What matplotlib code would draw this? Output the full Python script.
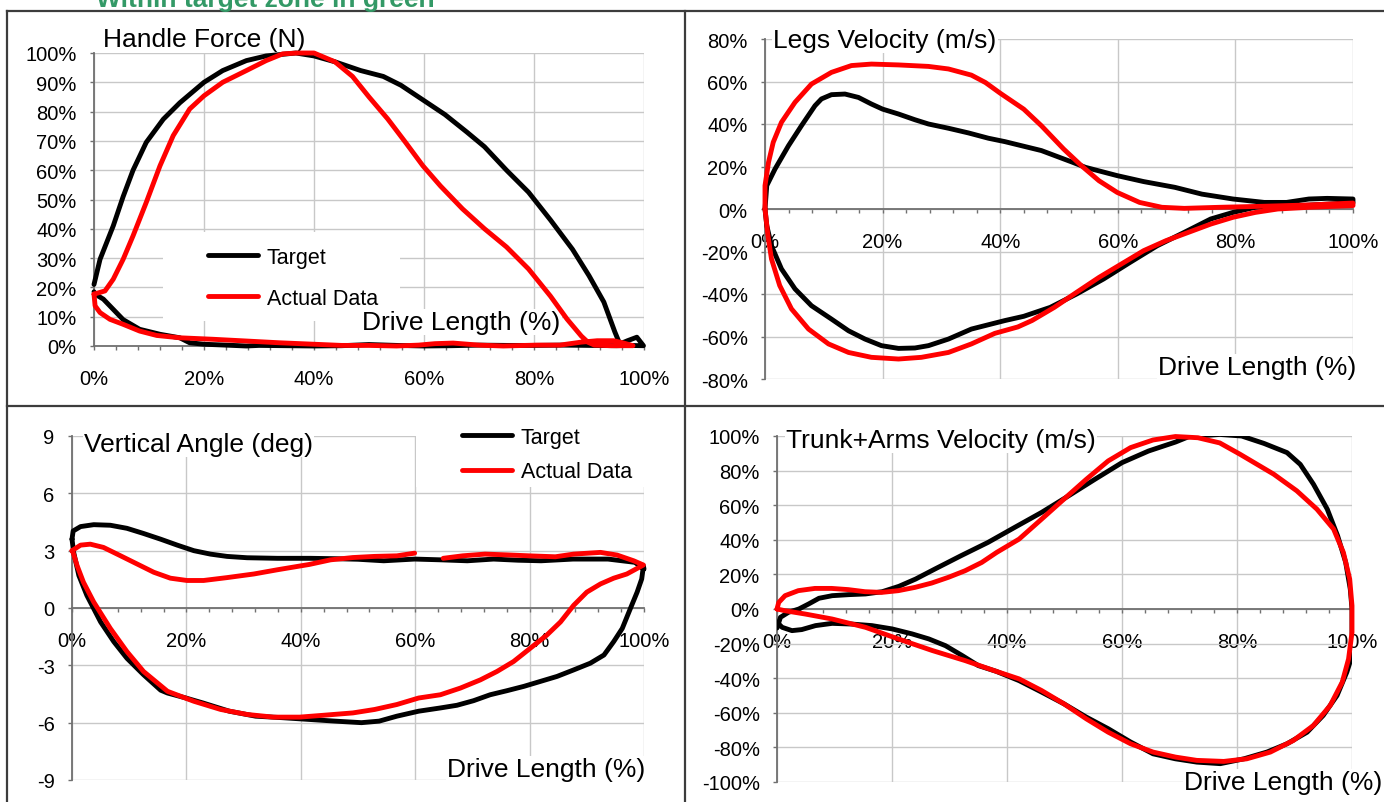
import matplotlib
matplotlib.use("Agg")
import numpy as np
import matplotlib.pyplot as plt
from matplotlib.ticker import MultipleLocator, FuncFormatter
from matplotlib.patches import Rectangle
from matplotlib.lines import Line2D

plt.rcParams["font.family"] = ["Liberation Sans", "DejaVu Sans"]
plt.rcParams["axes.unicode_minus"] = False

# ---- handle force (% of peak) vs drive length (%) ----
force_tgt_x = [0, 1.1, 3.5, 5.3, 7.1, 9.5, 12.6, 15.6, 20, 23.4, 27.7, 31.3, 36.7, 40, 43.8,
               48.5, 52.6, 55.8, 59.8, 63.8, 67.8, 71, 75, 79, 83, 87, 90, 92.7, 94.7, 95.6,
               97, 98.7, 99.9,
               97, 95, 90, 85, 80, 75, 70, 65, 60, 55, 50, 45, 40, 35, 30, 27.7, 24, 20, 17.4,
               15.6, 12, 8.3, 5.3, 3.5, 1.7, 0.2, 0]
force_tgt_y = [21, 29.6, 41, 51, 60, 69.5, 77.4, 83, 90, 94, 97.4, 99, 100, 99, 97,
               94, 92, 89, 84, 79, 73, 68, 60, 52.5, 43, 33, 24, 15, 4.8, 0.7,
               1.8, 3, 0.1,
               0.2, 0.1, 0.2, 0.3, 0.2, 0.2, 0.3, 0.1, 0, 0.2, 0.5, 0.1, 0, 0.1, 0.2, 0, 0.3, 0.6, 1.1,
               2.8, 4, 5.7, 9, 12.5, 16, 17.7, 18.5]
force_act_x = [0, 2, 3.5, 5.3, 7.1, 9.5, 12, 14.4, 17.4, 20, 23.4, 27.7, 31.3, 34.3, 37, 40,
               43.8, 47, 50, 53.4, 56.6, 59.8, 63, 67, 71, 75, 79, 83, 86, 88.6, 89.8, 91, 94, 98,
               96.5, 94.5, 91.5, 88.5, 84.7, 80.5, 74.4, 70, 65.3, 62, 59, 55, 50, 45, 40, 33.7,
               27.7, 21.6, 15.6, 11.4, 8.3, 5.3, 2.9, 1.1, 0.2, 0]
force_act_y = [17.7, 18.8, 22.8, 29.6, 37.6, 49, 61.5, 71.8, 80.9, 85.4, 90, 94, 97.4, 99.7, 100, 100,
               97, 92, 85, 77.5, 69.6, 61.5, 54.6, 46.8, 40, 33.8, 26.3, 17, 9.2, 3.4, 1.3, 0.3, 0.1, 0.1,
               0.9, 1.8, 1.8, 1.3, 0.3, 0.3, 0, 0.3, 1, 0.8, 0.3, 0, 0.2, 0.2, 0.6, 1.1,
               1.7, 2.3, 2.8, 3.6, 5.1, 7.4, 9.1, 11.4, 13.7, 17.7]

# ---- legs velocity ----
legs_tgt_x = [0, 0.3, 1.7, 4, 6.2, 8.5, 9.6, 11.3, 13.6, 15.9, 18.1, 20, 22.7, 25.5, 27.8, 31.2,
              34.6, 38, 40.8, 47, 52.3, 54.5, 59.9, 64.4, 69.7, 74.3, 79.6, 84.9, 88.7, 92.5, 95.6, 100,
              100, 96.3, 91, 87.2, 83.4, 79.6, 75.8, 71.3, 66.7, 62.1, 57.6, 53, 48.5, 44, 40.8,
              35.1, 31.2, 27.8, 25.5, 22.7, 19.8, 17, 14.2, 11.3, 7.9, 5.1, 2.8, 1.1, 0.3, 0]
legs_tgt_y = [0, 11, 18.8, 29.8, 39.2, 48.6, 51.8, 53.8, 54.1, 52.5, 49.4, 47, 44.7, 42, 40, 38,
              35.8, 33.3, 31.7, 27.5, 22, 19.6, 15.7, 12.9, 10.2, 7, 4.7, 3.1, 3.1, 4.7, 5, 4.7,
              3, 2.4, 1.6, 1.9, 0.8, -1.6, -4.7, -11, -17.3, -25.1, -32.9, -40, -46.3, -50.5, -52.5,
              -56.5, -61.2, -64.3, -65.4, -65.6, -64.3, -61.2, -57.3, -51.8, -45.5, -37.6, -28.2, -17.3, -7.8, 0]
legs_act_x = [0, 0, 0.6, 1.4, 2.8, 5.1, 7.9, 11.3, 14.7, 18.1, 22.7, 27.8, 31.2, 35.1, 37.5, 40, 44,
              47, 50.8, 53.8, 56.8, 59.9, 63.7, 67.5, 71.3, 77.3, 84.9, 92.5, 100,
              100, 92.5, 87.2, 83.4, 79.6, 75.8, 72, 68.2, 64.4, 60.6, 56.8, 53, 49.2, 45.4, 43,
              39.1, 35.1, 31.2, 26.6, 22.7, 18.1, 14.2, 10.8, 7.4, 4.5, 2.5, 1.1, 0.5, 0]
legs_act_y = [0, 11, 22, 31.4, 40.8, 50.2, 58.8, 64.3, 67.5, 68.2, 67.8, 67.1, 65.9, 63, 59.5, 54.5, 47,
              39.2, 28.2, 20.4, 13.3, 7.8, 3.1, 0.8, 0.3, 0.8, 1.3, 1.9, 2.8,
              1.6, 0.8, 0, -1.6, -3.9, -7.1, -11, -14.9, -19.6, -25.9, -32.2, -39.2, -46.3, -52.5, -55.5,
              -58.5, -63.5, -67.5, -69.8, -70.6, -69.8, -67.5, -63.5, -56.5, -47, -36, -23.5, -12.5, 0]

# ---- vertical angle (deg) ----
angle_tgt_x = [0, 0.2, 1.5, 3.8, 6.7, 9.6, 12.5, 15.5, 18.4, 21.3, 24.2, 27.1, 30.6, 35.9, 41.7,
               46, 50, 54.5, 59.9, 64.5, 69.1, 73.7, 78, 82, 87.6, 93.7, 98.4, 100,
               99.9, 99.6, 98.8, 97.6, 96.2, 94.7, 93, 90.6, 87.7, 84.8, 81.9, 79, 76, 73.1, 70.2,
               67.3, 64.4, 60.6, 56.8, 53.7, 50.6, 46, 41.4, 36.8, 32.1, 27.5, 22.9, 19.8, 16.7,
               15.5, 12.5, 9.6, 7.3, 5, 2.6, 1.2, 0.3, 0]
angle_tgt_y = [3.6, 4.03, 4.26, 4.36, 4.33, 4.17, 3.9, 3.6, 3.29, 3.0, 2.82, 2.7, 2.63, 2.6, 2.6,
               2.58, 2.55, 2.47, 2.56, 2.52, 2.47, 2.56, 2.5, 2.47, 2.56, 2.56, 2.39, 2.04,
               2.2, 1.52, 0.83, -0.04, -1.07, -1.76, -2.46, -2.89, -3.24, -3.58, -3.84, -4.1, -4.33, -4.54, -4.85,
               -5.09, -5.23, -5.4, -5.66, -5.92, -6.0, -5.92, -5.83, -5.74, -5.66, -5.4, -4.97, -4.7, -4.45,
               -4.3, -3.49, -2.63, -1.76, -0.73, 0.66, 1.7, 2.9, 3.6]
# the logged series has a dropout between 60 % and 65 % of the drive
angle_act_x = [0, 1.5, 3.2, 5.5, 8.5, 11.4, 14.3, 17.2, 20.1, 23, 27.1, 31.8, 35.9, 41.5, 45.2,
               49.1, 52.9, 56.8, 59.9, np.nan, 64.9, 68.3, 72.2, 76, 79.9, 84.5, 87.7, 92.4, 95.3,
               98.2, 99.9,
               97, 94.7, 92.4, 90, 87.7, 85.4, 83, 80.1, 77.2, 74.3, 71.4, 67.9, 64.4, 60.6, 56.8,
               52.9, 49.1, 44.5, 39.8, 35.2, 30.6, 26, 21.3, 16.7, 12.5, 9.6, 6.7, 3.8, 2, 0.9, 0.2, 0]
angle_act_y = [3.0, 3.29, 3.34, 3.17, 2.73, 2.3, 1.87, 1.56, 1.44, 1.44, 1.59, 1.78, 2.0, 2.28, 2.52,
               2.64, 2.7, 2.73, 2.87, np.nan, 2.6, 2.73, 2.82, 2.78, 2.73, 2.68, 2.82, 2.91, 2.77,
               2.47, 2.25,
               1.78, 1.56, 1.26, 0.83, 0.14, -0.73, -1.42, -2.11, -2.8, -3.32, -3.76, -4.19, -4.54, -4.71, -5.05,
               -5.31, -5.49, -5.6, -5.71, -5.71, -5.57, -5.31, -4.88, -4.36, -3.32, -2.28, -1.07, 0.31, 1.35, 2.21, 2.9, 3.0]

# ---- trunk + arms velocity ----
trunk_tgt_x = [0, 0.6, 2, 3.8, 5.5, 7.3, 9.6, 12.5, 15.4, 18.3, 21.2, 24.1, 27.4, 32, 36.7, 41.3,
               46, 50.7, 55.3, 60, 64.6, 69.3, 71.6, 77, 80.8, 84.7, 88.7, 91, 93.3, 95.7, 97.5,
               98.9, 99.7, 100,
               100, 100.2, 99.1, 97.4, 95, 92.2, 88.7, 85.2, 81.2, 77.1, 73, 69.3, 65.4, 61.5, 57.6,
               53.8, 49.9, 46, 42.1, 38.1, 35, 32.2, 29.3, 26.4, 23.5, 20, 16.5, 13, 9.6, 6.7, 4.3,
               2.6, 0.9, 0]
trunk_tgt_y = [-11, -4.8, -1.9, 0, 2.9, 6.2, 7.7, 8.3, 8.7, 10, 13.1, 17.3, 23, 30.8, 38.5, 47.1,
               55.8, 65.4, 75, 84.6, 91.3, 96.5, 99.6, 100.9, 100, 95.7, 90.4, 83.6, 72.1, 57.7, 42.3,
               27, 11.5, 0,
               -13.5, -25, -36.5, -50, -61.5, -71.2, -77.9, -82.7, -86.6, -89.4, -88.5, -86.6, -83.7, -76.9, -69.2,
               -62.5, -54.8, -48, -41.4, -36, -32.7, -26.9, -21.2, -17.3, -14.4, -11.5, -9.6, -8.7, -8.3, -9.6, -11.9,
               -12.5, -10.6, -7.7]
trunk_act_x = [0, 0.3, 1.4, 3.7, 6.6, 9.5, 12.4, 15.3, 18.2, 21.1, 24, 26.9, 29.8, 32.7, 35.6, 38.2,
               42.1, 46, 49.9, 53.8, 57.6, 61.5, 65.4, 69.3, 73.2, 77, 80.5, 86.4, 90.4, 93.9, 96.8,
               98.5, 99.6, 100,
               100, 99.4, 98.3, 96.2, 93.3, 89.8, 85.8, 81.7, 77.7, 73, 69.3, 65.4, 61.5, 57.6, 53.8,
               49.9, 46, 42.1, 38.1, 32.7, 27, 21.1, 15.4, 9.6, 4.9, 1.4, 0]
trunk_act_y = [0, 3.8, 7.7, 10.6, 11.9, 11.9, 11.2, 10, 9.6, 10.6, 12.5, 15, 18.3, 22.1, 26.9, 32.7,
               40.4, 51.9, 63.5, 75, 85.6, 93.3, 97.7, 99.7, 99, 96, 89.5, 77.9, 68.3, 57.7, 46.2,
               32.7, 17.3, 1.9,
               -13.5, -28.9, -42.3, -55.8, -67.3, -76, -82.7, -86.6, -88.1, -87.5, -85.6, -82.7, -77.9, -71.2, -63.5,
               -54.8, -47.1, -40.4, -36, -29.8, -24, -17.3, -10.6, -5.8, -2.9, -1, 0]

series_labels = ["Target", "Actual Data"]

W, H = 1384, 803
BLACK, RED = "#000000", "#ff0000"
GRID = "#c8c8c8"
AXIS = "#707070"
FRAME = "#3c3c3c"
LW = 3.5

fig = plt.figure(figsize=(W / 100, H / 100), dpi=100)


def fx(x):
    return x / W


def fy(y):
    return 1 - y / H


def panel(left, top, right, bottom, ylo, yhi, ystep, pct=True):
    ax = fig.add_axes([fx(left), fy(bottom), (right - left) / W, (bottom - top) / H])
    ax.set_xlim(0, 100)
    ax.set_ylim(ylo, yhi)
    ax.xaxis.set_major_locator(MultipleLocator(20))
    ax.xaxis.set_minor_locator(MultipleLocator(4))
    ax.yaxis.set_major_locator(MultipleLocator(ystep))

    def lab(v, _):
        v = 0 if abs(v) < 1e-9 else v
        return f"{v:.0f}%" if pct else f"{v:.0f}"
    ax.xaxis.set_major_formatter(FuncFormatter(lambda v, _: f"{v:.0f}%"))
    ax.yaxis.set_major_formatter(FuncFormatter(lab))
    ax.set_axisbelow(True)
    ax.grid(True, which="major", color=GRID, lw=1.0)
    for s in ("top", "right"):
        ax.spines[s].set_visible(False)
    ax.spines["bottom"].set_position(("data", 0))
    for s in ("left", "bottom"):
        ax.spines[s].set_color(AXIS)
        ax.spines[s].set_linewidth(1.3)
    ax.tick_params(axis="both", which="both", direction="out", length=3, width=1.0,
                   color=AXIS, labelsize=14.5)
    ax.tick_params(axis="x", which="major", pad=13.5)
    ax.tick_params(axis="y", pad=9.5)
    return ax


def loop(ax, x, y, color, clip=False):
    return ax.plot(x, y, color=color, lw=LW, zorder=3, clip_on=clip,
                   solid_joinstyle="round", solid_capstyle="round")[0]


def label(ax, x, y, s):
    ax.text(fx(x), fy(y), s, transform=fig.transFigure, fontsize=19, ha="left",
            va="baseline", zorder=1, clip_on=False,
            bbox=dict(facecolor="white", edgecolor="none", pad=1))


def legend_box(ax, handles, x, y, spacing, box):
    x0, y0, x1, y1 = box
    ax.add_patch(Rectangle((fx(x0), fy(y1)), (x1 - x0) / W, (y1 - y0) / H,
                           transform=fig.transFigure, facecolor="white", edgecolor="none",
                           zorder=1, clip_on=False))
    ax.legend(handles, series_labels, loc="upper left", bbox_to_anchor=(fx(x), fy(y)),
              bbox_transform=fig.transFigure, frameon=False, fontsize=15.5,
              handlelength=2.3, handletextpad=0.42, labelspacing=spacing,
              borderpad=0, borderaxespad=0)


# top left: handle force
ax1 = panel(94, 54, 644, 347, 0, 100, 10)
h1 = loop(ax1, force_tgt_x, force_tgt_y, BLACK)
h2 = loop(ax1, force_act_x, force_act_y, RED)
legend_box(ax1, [h1, h2], 208, 248, 0.92, (163, 233, 400, 322))
label(ax1, 103, 47, "Handle Force (N)")
label(ax1, 362, 330, "Drive Length (%)")

# top right: legs velocity
ax2 = panel(765, 40, 1353, 380, -80, 80, 20)
loop(ax2, legs_tgt_x, legs_tgt_y, BLACK)
loop(ax2, legs_act_x, legs_act_y, RED)
label(ax2, 773, 48, "Legs Velocity (m/s)")
label(ax2, 1158, 375, "Drive Length (%)")

# bottom left: vertical angle
ax3 = panel(72, 437, 644, 781, -9, 9, 3, pct=False)
h1 = loop(ax3, angle_tgt_x, angle_tgt_y, BLACK)
h2 = loop(ax3, angle_act_x, angle_act_y, RED)
legend_box(ax3, [h1, h2], 462, 427.6, 0.64, (416, 418, 652, 488))
label(ax3, 84, 451.7, "Vertical Angle (deg)")
label(ax3, 447, 777, "Drive Length (%)")

# bottom right: trunk + arms velocity
ax4 = panel(777, 437, 1352, 783, -100, 100, 20)
loop(ax4, trunk_tgt_x, trunk_tgt_y, BLACK, clip=True)
loop(ax4, trunk_act_x, trunk_act_y, RED)
label(ax4, 786, 448, "Trunk+Arms Velocity (m/s)")
label(ax4, 1184, 790, "Drive Length (%)")

# sheet cell borders around the four charts
for (x0, y0, x1, y1) in [(7, 12, W, 12), (7, 12, 7, H), (684.5, 12, 684.5, H), (7, 406.5, W, 406.5)]:
    fig.add_artist(Line2D([fx(x0), fx(x1)], [fy(y0), fy(y1)], transform=fig.transFigure,
                          color=FRAME, lw=1.6))

# sheet heading sits above the first chart row, its top half scrolled out of view
fig.text(fx(96), fy(6.5), "Within target zone in green", color="#339966", fontsize=19,
         fontweight="bold", ha="left", va="baseline")

fig.savefig("out.png", dpi=100)
